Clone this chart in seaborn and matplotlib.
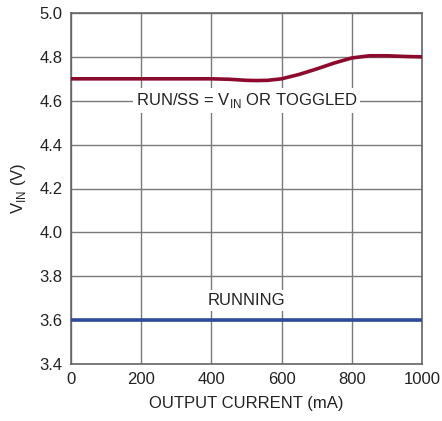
import matplotlib
matplotlib.use("Agg")
import matplotlib.pyplot as plt
import seaborn as sns
import pandas as pd
from matplotlib import font_manager

current_ma = [0, 100, 200, 300, 400, 450, 500, 530, 560, 600, 650, 700, 750, 800, 850, 900, 950, 1000]
vin_toggled = [4.70, 4.70, 4.70, 4.70, 4.70, 4.698, 4.693, 4.692, 4.693, 4.70, 4.72, 4.745, 4.772, 4.795, 4.805, 4.805, 4.802, 4.80]
running_x = [0, 1000]
vin_running = [3.6, 3.6]

x_ticks = [0, 200, 400, 600, 800, 1000]
y_ticks = [3.4, 3.6, 3.8, 4.0, 4.2, 4.4, 4.6, 4.8, 5.0]

sns.set_style("white")
names = {f.name for f in font_manager.fontManager.ttflist}
fam = "Liberation Sans Narrow" if "Liberation Sans Narrow" in names else "Liberation Sans"
plt.rcParams['font.family'] = [fam, 'DejaVu Sans']

fig = plt.figure(figsize=(4.42, 4.21), dpi=100)
ax = fig.add_axes([71/442, 57/421, 351/442, 351/421])

df1 = pd.DataFrame({"x": current_ma, "y": vin_toggled})
df2 = pd.DataFrame({"x": running_x, "y": vin_running})
sns.lineplot(data=df1, x="x", y="y", ax=ax, color="#8c0a2e", linewidth=2.6, zorder=3)
sns.lineplot(data=df2, x="x", y="y", ax=ax, color="#2f4b9b", linewidth=2.6, zorder=3)

fs = 12
ax.set_xlim(0, 1000)
ax.set_ylim(3.4, 5.0)
ax.set_xticks(x_ticks)
ax.set_yticks(y_ticks)
ax.set_xticklabels([str(v) for v in x_ticks], fontsize=fs, color="#222222")
ax.set_yticklabels([f"{v:.1f}" for v in y_ticks], fontsize=fs, color="#222222")
ax.grid(True, color="#7a7a7a", linewidth=1.0)
ax.set_axisbelow(True)
for s in ax.spines.values():
    s.set_color("#666666")
    s.set_linewidth(1.2)
ax.tick_params(axis="both", length=0, pad=6)
ax.set_xlabel("OUTPUT CURRENT (mA)", fontsize=fs, color="#222222", labelpad=6)
ax.set_ylabel(r"V$_{\mathregular{IN}}$ (V)", fontsize=fs, color="#222222", labelpad=8)

box = dict(facecolor="white", edgecolor="none", pad=2)
ax.text(500, 4.6, r"RUN/SS = V$_{\mathregular{IN}}$ OR TOGGLED", ha="center", va="center",
        fontsize=fs, color="#222222", bbox=box, zorder=4)
ax.text(500, 3.69, "RUNNING", ha="center", va="center", fontsize=fs, color="#222222",
        bbox=box, zorder=4)

fig.savefig("out.png", dpi=100)
